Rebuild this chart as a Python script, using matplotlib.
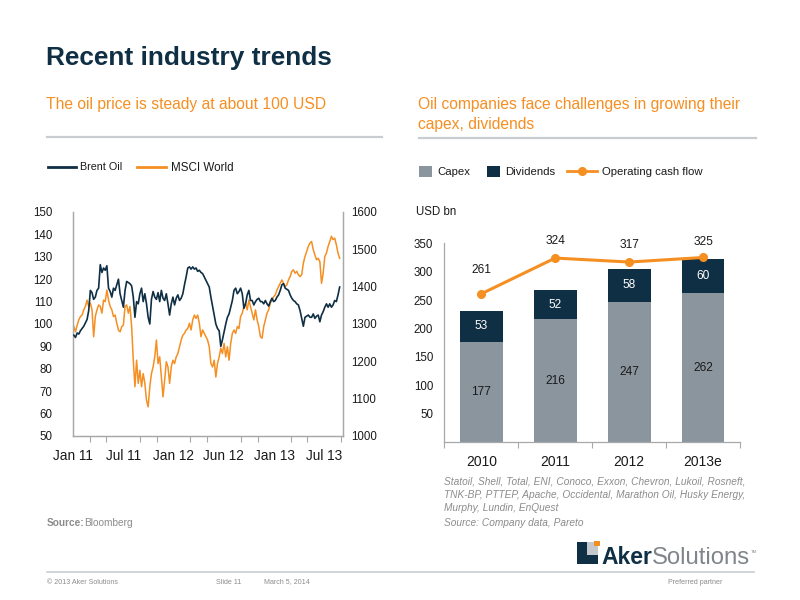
"""Aker Solutions slide: recent industry trends (oil price vs MSCI, oil company capex)."""

import matplotlib

matplotlib.use("Agg")
import matplotlib.pyplot as plt
import matplotlib.dates as mdates
import matplotlib.transforms as mtransforms
import pandas as pd
from matplotlib import font_manager
from matplotlib.lines import Line2D
from matplotlib.patches import Rectangle

# ─── Data: left chart (~6-day spacing) ────────────────────────────────
START_DATE = "2011-01-03"
STEP = "6D"

brent = [
    95, 94, 96, 95.5, 97, 98, 99, 100.5, 102, 106,
    115, 114, 111, 112, 115, 116, 126.5, 123, 125, 124,
    126, 116, 114.5, 112, 116, 115, 117.5, 120, 113.5, 110.5,
    107.5, 115, 119, 118.5, 118, 117, 112, 103, 110, 109,
    113.5, 116, 110, 113.5, 109, 103, 100, 111, 114.5, 112,
    111, 114, 110, 115, 111.5, 110.5, 113.5, 109, 104, 109,
    112, 108.5, 111.5, 113, 110.5, 111.5, 113.5, 117.5, 121, 125,
    125.5, 124.5, 125.5, 124.5, 125, 123.5, 124, 123, 122.5, 121,
    119.5, 118, 116.5, 112, 108, 104, 100, 98, 97, 90,
    93, 96.5, 100, 103, 104.5, 107.5, 110.5, 115, 116, 113.5,
    114.5, 116, 113.5, 107, 109, 113, 115, 110.5, 110.5, 108.5,
    110, 111, 111.5, 110, 110, 109, 110.5, 109, 108, 110,
    111.5, 110, 110.5, 112, 113, 115, 117.5, 118, 116, 115.5,
    115, 113, 111.5, 110.5, 110, 109, 108.5, 106, 102.5, 99,
    103, 103.5, 104, 103, 103, 104.5, 102.5, 103.5, 104, 101,
    104, 105.5, 107.5, 109, 107.5, 109, 107.5, 108.5, 110.5, 110,
    113, 116.5,
]

msci_world = [
    1293, 1279, 1297, 1311, 1320, 1324, 1338, 1347, 1364, 1347,
    1356, 1338, 1266, 1320, 1338, 1351, 1347, 1329, 1364, 1360,
    1391, 1364, 1347, 1338, 1320, 1324, 1302, 1284, 1279, 1293,
    1297, 1347, 1351, 1329, 1347, 1293, 1203, 1132, 1203, 1141,
    1176, 1132, 1167, 1141, 1096, 1078, 1132, 1167, 1185, 1212,
    1257, 1194, 1212, 1158, 1105, 1150, 1199, 1185, 1141, 1185,
    1203, 1194, 1212, 1221, 1239, 1257, 1270, 1275, 1284, 1288,
    1302, 1284, 1311, 1324, 1315, 1324, 1302, 1266, 1284, 1275,
    1266, 1257, 1239, 1194, 1185, 1203, 1158, 1194, 1212, 1235,
    1221, 1248, 1212, 1239, 1203, 1248, 1275, 1284, 1275, 1293,
    1288, 1320, 1329, 1347, 1356, 1338, 1364, 1347, 1329, 1311,
    1338, 1311, 1293, 1266, 1262, 1293, 1311, 1329, 1338, 1356,
    1364, 1373, 1378, 1391, 1400, 1409, 1418, 1409, 1400, 1405,
    1418, 1427, 1441, 1445, 1436, 1441, 1432, 1427, 1432, 1463,
    1481, 1494, 1508, 1517, 1521, 1499, 1485, 1472, 1476, 1467,
    1409, 1436, 1481, 1490, 1508, 1521, 1535, 1526, 1530, 1512,
    1490, 1476,
]

x_label_dates = ["2011-01-01", "2011-07-01", "2012-01-01",
                 "2012-07-01", "2013-01-01", "2013-07-01"]
x_label_text = ["Jan 11", "Jul 11", "Jan 12", "Jun 12", "Jan 13", "Jul 13"]

# ─── Data: right chart ────────────────────────────────────────────────
years = ["2010", "2011", "2012", "2013e"]
capex = [177, 216, 247, 262]
dividends = [53, 52, 58, 60]
op_cash_flow = [261, 324, 317, 325]

companies_note = ("Statoil, Shell, Total, ENI, Conoco, Exxon, Chevron, Lukoil, Rosneft,\n"
                  "TNK-BP, PTTEP, Apache, Occidental, Marathon Oil, Husky Energy,\n"
                  "Murphy, Lundin, EnQuest")

# ─── Style ────────────────────────────────────────────────────────────
NAVY = "#0F2F45"
ORANGE = "#F58F22"
BAR_GREY = "#8A959E"
RULE_GREY = "#C9CDD2"
NOTE_GREY = "#8C8C8C"
AXIS_GREY = "#A8A8A8"
TEXT = "#1A1A1A"

installed = {f.name for f in font_manager.fontManager.ttflist}
NARROW_OK = "Liberation Sans Narrow" in installed
SLIDE_FONT = "Liberation Sans Narrow" if NARROW_OK else "Liberation Sans"
SCALE = 1.0 if NARROW_OK else 0.82   # shrink if we fall back to full-width font
CHART_FONT = "Liberation Sans"

plt.rcParams["font.family"] = [CHART_FONT, "DejaVu Sans"]

W, H = 800, 600
fig = plt.figure(figsize=(8, 6), dpi=100)
fig.patch.set_facecolor("white")


def fx(x):
    return x / W


def fy(y):
    return 1 - y / H


def slide_text(x, y, s, size, **kw):
    kw.setdefault("va", "center")
    kw.setdefault("family", [SLIDE_FONT, "DejaVu Sans"])
    return fig.text(fx(x), fy(y), s, fontsize=size * SCALE, **kw)


def rule(x0, x1, y, lw=1.6, color=RULE_GREY):
    fig.add_artist(Line2D([fx(x0), fx(x1)], [fy(y), fy(y)], color=color,
                          lw=lw, transform=fig.transFigure))


def box(x0, y0, x1, y1, color):
    fig.add_artist(Rectangle((fx(x0), fy(y1)), fx(x1) - fx(x0), fy(y0) - fy(y1),
                             facecolor=color, edgecolor="none",
                             transform=fig.transFigure))


# ─── Headings ─────────────────────────────────────────────────────────
slide_text(46, 58, "Recent industry trends", 23, color=NAVY, weight="bold")
slide_text(46, 104, "The oil price is steady at about 100 USD", 13.7, color=ORANGE)
slide_text(418, 104, "Oil companies face challenges in growing their", 13.7, color=ORANGE)
slide_text(418, 125, "capex, dividends", 13.7, color=ORANGE)
rule(47, 382, 137)
rule(419, 756, 138)

# ─── Left legend ──────────────────────────────────────────────────────
fig.add_artist(Line2D([fx(48), fx(76)], [fy(167), fy(167)], color=NAVY, lw=2,
                      transform=fig.transFigure))
slide_text(80, 166.5, "Brent Oil", 9.4, color=TEXT)
fig.add_artist(Line2D([fx(137), fx(166)], [fy(167), fy(167)], color=ORANGE, lw=2,
                      transform=fig.transFigure))
slide_text(171, 168, "MSCI World", 10.2, color=TEXT)

# ─── Left chart: Brent vs MSCI World ──────────────────────────────────
dates = pd.date_range(START_DATE, periods=len(brent), freq=STEP)

ax = fig.add_axes([fx(73.3), fy(436), fx(342.7) - fx(73.3), fy(212) - fy(436)])
ax.plot(dates, brent, color=NAVY, lw=1.2, zorder=3)
ax.set_ylim(50, 150)
ax.set_yticks(range(50, 151, 10))
ax.set_xlim(pd.Timestamp("2011-01-01"), pd.Timestamp("2013-09-06"))

axr = ax.twinx()
axr.plot(dates, msci_world, color=ORANGE, lw=1.1, zorder=2)
axr.set_ylim(1000, 1600)
axr.set_yticks(range(1000, 1601, 100))
ax.set_zorder(axr.get_zorder() + 1)   # navy line above orange
ax.patch.set_visible(False)

ax.xaxis.set_minor_locator(mdates.MonthLocator(bymonth=[1, 3, 5, 7, 9, 11]))
ax.set_xticks(pd.to_datetime(x_label_dates))
ax.set_xticklabels(x_label_text)
shift = mtransforms.ScaledTranslation(6 / 100, 0, fig.dpi_scale_trans)
for lbl in ax.get_xticklabels():
    lbl.set_transform(lbl.get_transform() + shift)
ax.tick_params(axis="x", which="major", length=0, pad=9, labelsize=9.8, labelcolor=TEXT)
ax.tick_params(axis="x", which="minor", length=4, color=AXIS_GREY, width=0.8)
ax.tick_params(axis="y", length=0, pad=15, labelsize=8.3, labelcolor=TEXT)
axr.tick_params(axis="y", length=0, pad=6, labelsize=8.3, labelcolor=TEXT)
for lbl in ax.get_yticklabels():
    lbl.set_horizontalalignment("right")

for a in (ax, axr):
    a.spines["top"].set_visible(False)
    for side in ("left", "right", "bottom"):
        a.spines[side].set_color(AXIS_GREY)
        a.spines[side].set_linewidth(0.9)

# ─── Right legend ─────────────────────────────────────────────────────
box(419, 165.5, 432, 177, BAR_GREY)
slide_text(437, 171.5, "Capex", 10, color=TEXT)
box(487, 165.5, 500, 177, NAVY)
slide_text(505, 171.5, "Dividends", 10, color=TEXT)
fig.add_artist(Line2D([fx(567), fx(597)], [fy(171), fy(171)], color=ORANGE, lw=2,
                      transform=fig.transFigure))
fig.add_artist(Line2D([fx(582)], [fy(171)], color=ORANGE, marker="o", ms=5.5,
                      transform=fig.transFigure))
slide_text(602, 171.5, "Operating cash flow", 10, color=TEXT)

fig.text(fx(416), fy(212), "USD bn", fontsize=8.3, color=TEXT, va="center")

# ─── Right chart: capex, dividends, operating cash flow ───────────────
bx = fig.add_axes([fx(444.3), fy(442), fx(740) - fx(444.3), fy(243.3) - fy(442)])
pos = range(len(years))
bx.bar(pos, capex, width=0.58, color=BAR_GREY, zorder=2)
bx.bar(pos, dividends, width=0.58, bottom=capex, color=NAVY, zorder=2)
bx.plot(pos, op_cash_flow, color=ORANGE, lw=2.2, marker="o", ms=5.5, zorder=3)

for i, (c, d) in enumerate(zip(capex, dividends)):
    bx.text(i, c / 2, str(c), ha="center", va="center", fontsize=8.6, color=TEXT)
    bx.text(i, c + d / 2, str(d), ha="center", va="center", fontsize=8.6, color="white")

label_lift = [13, 8, 8, 7]   # points above each cash-flow marker
for i, (v, lift) in enumerate(zip(op_cash_flow, label_lift)):
    bx.annotate(str(v), (i, v), xytext=(0, lift), textcoords="offset points",
                ha="center", va="bottom", fontsize=8.6, color=TEXT)

bx.set_xlim(-0.5, len(years) - 0.5)
bx.set_ylim(0, 350)
bx.set_yticks(range(50, 351, 50))
bx.set_xticks(list(pos))
bx.set_xticklabels(years)
bx.set_xticks([i - 0.5 for i in range(len(years) + 1)], minor=True)
bx.tick_params(axis="x", which="major", length=0, pad=9, labelsize=10, labelcolor=TEXT)
bx.tick_params(axis="x", which="minor", length=4, color=AXIS_GREY, width=0.8)
bx.tick_params(axis="y", length=0, pad=8, labelsize=8.3, labelcolor=TEXT)
for side in ("top", "right"):
    bx.spines[side].set_visible(False)
for side in ("left", "bottom"):
    bx.spines[side].set_color(AXIS_GREY)
    bx.spines[side].set_linewidth(0.9)

# ─── Notes and sources ────────────────────────────────────────────────
slide_text(444, 495, companies_note, 8.95, color=NOTE_GREY, style="italic",
           linespacing=1.4)
slide_text(444, 523, "Source: Company data, Pareto", 8.95, color=NOTE_GREY, style="italic")
slide_text(47, 523, "Source:", 8.95, color=NOTE_GREY, weight="bold")
slide_text(84, 523, "Bloomberg", 8.95, color=NOTE_GREY)

# ─── Logo and footer ──────────────────────────────────────────────────
box(577, 542, 598, 563.5, NAVY)
box(587, 542, 598, 555, "#C4C8CC")
box(594, 540.5, 599.5, 546, ORANGE)
fig.text(fx(652), fy(564), "Aker", fontsize=16.5, weight="bold", color=NAVY,
         ha="right", va="baseline")
fig.text(fx(652), fy(564), "Solutions", fontsize=17.2, color="#7F8589",
         ha="left", va="baseline")
fig.text(fx(751), fy(552), "TM", fontsize=3, color="#7F8589", va="center")

rule(47, 754, 572, lw=1.2)
slide_text(47, 582, "\u00a9 2013 Aker Solutions", 6.3, color=NOTE_GREY)
slide_text(216, 582, "Slide 11", 6.3, color=NOTE_GREY)
slide_text(264, 582, "March 5, 2014", 6.3, color=NOTE_GREY)
slide_text(722, 582, "Preferred partner", 6.3, color=NOTE_GREY, ha="right")

fig.savefig("out.png", dpi=100, facecolor="white")
